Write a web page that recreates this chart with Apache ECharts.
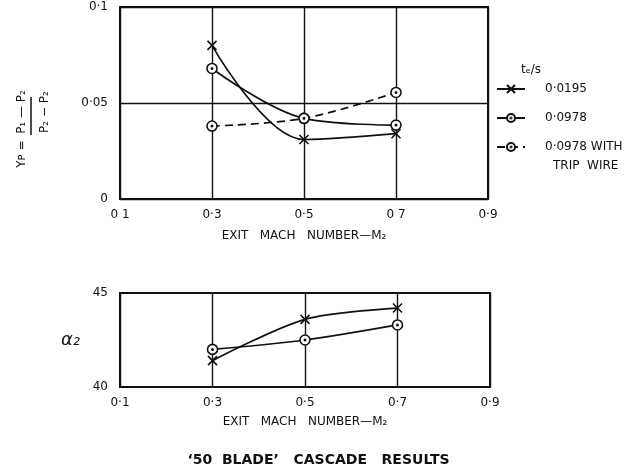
<!DOCTYPE html>
<html>
<head>
<meta charset="utf-8">
<script src="https://cdn.jsdelivr.net/npm/echarts@6/dist/echarts.min.js"></script>
<style>
  html, body { margin: 0; padding: 0; background: #fff; }
  #chart { width: 637px; height: 471px; }
</style>
</head>
<body>
<div id="chart"></div>
<script>
var chart = echarts.init(document.getElementById('chart'));

// values
const mach = [0.3, 0.5, 0.7];
const yp0195 = [0.080, 0.031, 0.034];
const yp0978 = [0.068, 0.042, 0.0385];
const ypTrip = [0.038, 0.042, 0.0555];
const alpha0195 = [41.4, 43.6, 44.2];
const alpha0978 = [42.0, 42.5, 43.3];

const topXLabels = ['0 1', '0·3', '0·5', '0 7', '0·9'];
const botXLabels = ['0·1', '0·3', '0·5', '0·7', '0·9'];
const topYLabels = ['0', '0·05', '0·1'];
const botYLabels = ['40', '45'];
const seriesNames = ['0·0195', '0·0978', '0·0978 WITH'];

const ink = '#111';
const font = 'DejaVu Sans';

const crossSym = 'path://M0,0L10,10M10,0L0,10';
const dotSym = 'path://M10,5A5,5,0,1,1,0,5A5,5,0,1,1,10,5ZM5.7,5A0.7,0.7,0,1,1,4.3,5A0.7,0.7,0,1,1,5.7,5Z';

const pairs = (ys) => mach.map((m, i) => [m, ys[i]]);
const idx = (v, min, step) => Math.round((v - min) / step);

const lineSeries = (name, ys, sym, dashed, axis) => ({
  name: name,
  type: 'line',
  xAxisIndex: axis,
  yAxisIndex: axis,
  data: pairs(ys),
  smooth: 0.35,
  symbol: sym,
  symbolSize: sym === crossSym ? 9 : 10,
  showAllSymbol: true,
  color: ink,
  lineStyle: { color: ink, width: 1.7, type: dashed ? [8, 5] : 'solid' },
  itemStyle: { color: '#fff', borderColor: ink, borderWidth: 1.6 },
  z: 3
});

const axisText = { color: ink, fontFamily: font, fontSize: 12 };

var option = {
  animation: false,
  backgroundColor: '#fff',
  textStyle: { fontFamily: font, color: ink },
  title: {
    text: '‘50  BLADE’   CASCADE   RESULTS',
    left: 'center',
    top: 448,
    textStyle: { fontFamily: font, fontSize: 14, fontWeight: 'bold', color: ink }
  },
  grid: [
    { left: 120, top: 7, width: 368, height: 192, show: true, borderColor: ink, borderWidth: 2 },
    { left: 120, top: 293, width: 370, height: 94, show: true, borderColor: ink, borderWidth: 2 }
  ],
  xAxis: [
    {
      gridIndex: 0, type: 'value', min: 0.1, max: 0.9, interval: 0.2,
      name: 'EXIT   MACH   NUMBER—M₂', nameLocation: 'middle', nameGap: 31,
      nameTextStyle: axisText,
      axisLine: { show: false }, axisTick: { show: false },
      axisLabel: Object.assign({ margin: 10, formatter: v => topXLabels[idx(v, 0.1, 0.2)] }, axisText),
      splitLine: { show: true, lineStyle: { color: ink, width: 1.4 } }
    },
    {
      gridIndex: 1, type: 'value', min: 0.1, max: 0.9, interval: 0.2,
      name: 'EXIT   MACH   NUMBER—M₂', nameLocation: 'middle', nameGap: 29,
      nameTextStyle: axisText,
      axisLine: { show: false }, axisTick: { show: false },
      axisLabel: Object.assign({ margin: 10, formatter: v => botXLabels[idx(v, 0.1, 0.2)] }, axisText),
      splitLine: { show: true, lineStyle: { color: ink, width: 1.4 } }
    }
  ],
  yAxis: [
    {
      gridIndex: 0, type: 'value', min: 0, max: 0.1, interval: 0.05,
      axisLine: { show: false }, axisTick: { show: false },
      axisLabel: Object.assign({ margin: 12, formatter: v => topYLabels[idx(v, 0, 0.05)] }, axisText),
      splitLine: { show: true, lineStyle: { color: ink, width: 1.4 } }
    },
    {
      gridIndex: 1, type: 'value', min: 40, max: 45, interval: 5,
      name: 'α₂', nameLocation: 'middle', nameGap: 40, nameRotate: 0,
      nameTextStyle: { color: ink, fontFamily: font, fontSize: 18, fontStyle: 'italic' },
      axisLine: { show: false }, axisTick: { show: false },
      axisLabel: Object.assign({ margin: 12, formatter: v => botYLabels[idx(v, 40, 5)] }, axisText),
      splitLine: { show: false }
    }
  ],
  legend: {
    orient: 'vertical',
    left: 491,
    top: 78,
    itemWidth: 28,
    itemHeight: 10,
    itemGap: 17,
    data: seriesNames,
    textStyle: { color: ink, fontFamily: font, fontSize: 12, padding: [0, 0, 0, 15] }
  },
  series: [
    lineSeries(seriesNames[0], yp0195, crossSym, false, 0),
    lineSeries(seriesNames[1], yp0978, dotSym, false, 0),
    lineSeries(seriesNames[2], ypTrip, dotSym, true, 0),
    Object.assign(lineSeries('a0195', alpha0195, crossSym, false, 1), { smooth: 0.3 }),
    Object.assign(lineSeries('a0978', alpha0978, dotSym, false, 1), { smooth: 0.3 })
  ],
  graphic: [
    {
      type: 'group',
      x: 32, y: 132,
      rotation: Math.PI / 2,
      children: [
        { type: 'text', x: -22, y: -10, style: { text: 'Yᴘ =', font: '12px "DejaVu Sans"', fill: ink, align: 'center', verticalAlign: 'middle' } },
        { type: 'text', x: 20, y: -10, style: { text: 'P₁ — P₂', font: '12px "DejaVu Sans"', fill: ink, align: 'center', verticalAlign: 'middle' } },
        { type: 'line', shape: { x1: -3, y1: -1, x2: 35, y2: -1 }, style: { stroke: ink, lineWidth: 1.5 } },
        { type: 'text', x: 20, y: 13, style: { text: 'P₂ − P₂', font: '12px "DejaVu Sans"', fill: ink, align: 'center', verticalAlign: 'middle' } }
      ]
    },
    {
      type: 'text', x: 521, y: 64,
      style: { text: 'tₑ/s', font: '12px "DejaVu Sans"', fill: ink }
    },
    {
      type: 'text', x: 553, y: 160,
      style: { text: 'TRIP  WIRE', font: '12px "DejaVu Sans"', fill: ink }
    }
  ]
};

chart.setOption(option);
</script>
</body>
</html>
